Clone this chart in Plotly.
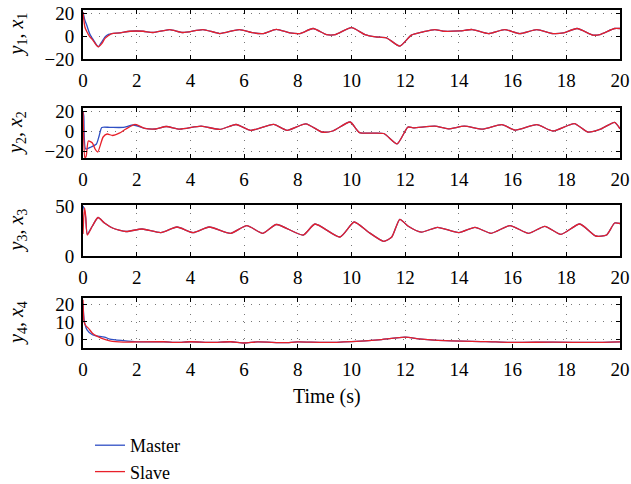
import plotly.graph_objects as go

# ---------------- data ----------------
# x1 / y1
t_x1 = [0, 0.07, 0.14, 0.25, 0.35, 0.5, 0.57, 0.7, 0.82, 0.95, 1.07, 1.38, 1.75, 2.24, 2.61,
        3.23, 3.72, 4.47, 5.09, 5.83, 6.3, 6.72, 7.2, 7.7, 8.08, 8.57, 9.07, 9.4, 10.0, 10.5,
        10.9, 11.3, 11.8, 12.23, 12.67, 13.1, 13.42, 14.04, 14.5, 15.1, 15.7, 16.27, 16.9,
        17.5, 17.9, 18.4, 19.0, 19.25, 19.8, 20.0]
master_x1 = [21, 14, 9.5, 2, -2, -7.5, -9.3, -5, -0.6, 1.5, 2.3, 2.9, 4.3, 4.3, 3.2,
             5.8, 3.2, 5.8, 2.3, 5.8, 3, 2.3, 6, 2.9, 2.3, 6.7, 1.4, 1.4, 7.5, 1.4,
             -0.6, -1.4, -8.7, 0.9, 3.8, 5.8, 4.3, 4.6, 5.8, 2.3, 5.8, 2.3, 5.8,
             2.3, 2.9, 6.7, 0.9, 1.4, 6.7, 6.7]
slave_x1_head = [21, 8, 4, -0.5, -3, -8, -9.3, -6.5, -2, 0.5]
slave_x1 = slave_x1_head + master_x1[len(slave_x1_head):]

# x2 / y2
t_x2_master_head = [0, 0.03, 0.1, 0.3, 0.5, 0.6, 0.7, 1.0, 1.5, 1.88]
master_x2_head = [20, 15, -18, -16, -13, -5, 3.6, 3.6, 3.6, 6]
t_x2_slave_head = [0, 0.03, 0.07, 0.12, 0.2, 0.35, 0.45, 0.55, 0.75, 0.9, 1.1, 1.35, 1.6, 1.94]
slave_x2_head = [20, -10, -27, -25, -10, -12, -18, -21, -6, -3, -4.5, -2.2, 2, 6.7]
t_x2_tail = [2.3, 2.7, 3.1, 3.6, 4.4, 5.1, 5.7, 6.25, 7.1, 7.6, 8.3, 8.9, 9.3, 9.95, 10.3,
             11.2, 11.7, 12.1, 12.3, 13.1, 13.6, 14.2, 14.9, 15.6, 16.1, 16.9, 17.5, 18.3,
             18.8, 19.3, 19.8, 20.0]
x2_tail = [2.6, 2, 4.5, 1.8, 4.8, 1.6, 6.5, 0.7, 6.6, 0.7, 7.2, -1, 0, 9, -1.6,
           -2.5, -12.8, 3.9, 3.2, 4.8, 2.2, 4.8, 1.9, 6.4, 0.9, 6.4, 0, 7.4,
           -1, 2.2, 8.7, 2.2]

# x3 / y3
t_x3 = [0, 0.03, 0.06, 0.1, 0.16, 0.35, 0.56, 0.8, 1.1, 1.6, 2.2, 2.9, 3.5, 4.1, 4.7, 5.5,
        6.1, 6.7, 7.2, 8.2, 8.64, 9.57, 10.1, 10.6, 11.2, 11.5, 11.8, 12.1, 12.6, 13.2,
        14.0, 14.6, 15.2, 15.9, 16.6, 17.2, 17.8, 18.5, 19.1, 19.5, 19.8, 20.0]
master_x3 = [50, 48, 45, 38, 22, 30, 38.5, 33, 28, 24.5, 27, 23.4, 29, 23.4, 29, 22.7,
             30.4, 22.7, 31.5, 21, 32, 19, 34, 24.5, 14.7, 19, 36.7, 30, 23.8, 28.7,
             23.4, 28.7, 22.7, 30.4, 22.7, 29.7, 21.7, 32, 20, 21, 33, 32.5]
slave_x3_head = [22, 40, 48, 40, 21]
slave_x3 = slave_x3_head + master_x3[len(slave_x3_head):]

# x4 / y4
t_x4_master_head = [0, 0.05, 0.15, 0.35, 0.5, 0.8, 1.0, 1.5]
master_x4_head = [20.5, 10.3, 5.6, 2.8, 2.2, 1.5, 0.4, -0.5]
t_x4_slave_head = [0, 0.04, 0.1, 0.2, 0.35, 0.5, 0.7, 1.0, 1.5]
slave_x4_head = [22.4, 10, 8, 6.5, 3.7, 2.2, 0.8, -0.6, -1.3]
t_x4_tail = [2.0, 3.0, 3.5, 4.0, 4.8, 5.5, 6.0, 6.5, 7.5, 8.0, 9.0, 10.0, 11.0, 12.0, 12.5,
             13.5, 15.0, 16.0, 17.5, 19.0, 20.0]
x4_tail = [-1.2, -1.1, -1.5, -1.1, -1.5, -1.1, -1.8, -1.2, -1.6, -1.2, -1.5, -1.0, 0.0, 1.5, 0.5,
           -0.5, -1.0, -1.5, -1.3, -1.5, -1.2]

x_ticks = list(range(0, 21, 2))
y_titles = ["<i>y</i><sub>1</sub>, <i>x</i><sub>1</sub>",
            "<i>y</i><sub>2</sub>, <i>x</i><sub>2</sub>",
            "<i>y</i><sub>3</sub>, <i>x</i><sub>3</sub>",
            "<i>y</i><sub>4</sub>, <i>x</i><sub>4</sub>"]
y_ranges = [[-20, 22.9], [-27, 23], [0, 51], [-4.6, 23.4]]
y_tickvals = [[-20, 0, 20], [-20, 0, 20], [0, 50], [0, 10, 20]]
x_label = "Time (s)"

# ---------------- figure ----------------
W, H = 631, 484
BLUE = "#2f4fc4"
RED = "#e8202a"
FONT = "Liberation Serif"

series = [
    (t_x1, master_x1, t_x1, slave_x1),
    (t_x2_master_head + t_x2_tail, master_x2_head + x2_tail,
     t_x2_slave_head + t_x2_tail, slave_x2_head + x2_tail),
    (t_x3, master_x3, t_x3, slave_x3),
    (t_x4_master_head + t_x4_tail, master_x4_head + x4_tail,
     t_x4_slave_head + t_x4_tail, slave_x4_head + x4_tail),
]

# plot boxes in screen pixels (top, bottom)
boxes = [(10, 59), (108, 158), (205, 256), (298, 348)]
x_left, x_right = 83, 620


def px(x):
    return x / W


def py(y):
    return 1 - y / H


fig = go.Figure()
layout = dict(
    template="none",
    width=W, height=H,
    margin=dict(l=0, r=0, t=0, b=0, autoexpand=False),
    paper_bgcolor="white", plot_bgcolor="white",
    font=dict(family=FONT, size=18, color="black"),
    showlegend=True,
    legend=dict(x=px(90), y=py(427), xanchor="left", yanchor="top",
                font=dict(family=FONT, size=18), tracegroupgap=0,
                bgcolor="rgba(0,0,0,0)", borderwidth=0),
)

annotations = []
for i, (tm, ym, ts, ys) in enumerate(series):
    n = i + 1
    xa = "x" if n == 1 else f"x{n}"
    ya = "y" if n == 1 else f"y{n}"
    fig.add_trace(go.Scatter(x=tm, y=ym, mode="lines", name="Master",
                             line=dict(color=BLUE, width=1.3, shape="spline", smoothing=0.6),
                             xaxis=xa, yaxis=ya, showlegend=(n == 1), legendgroup="m"))
    fig.add_trace(go.Scatter(x=ts, y=ys, mode="lines", name="Slave",
                             line=dict(color=RED, width=1.3, shape="spline", smoothing=0.6),
                             xaxis=xa, yaxis=ya, showlegend=(n == 1), legendgroup="s"))
    top, bot = boxes[i]
    common = dict(showline=True, linecolor="black", linewidth=2, mirror="ticks",
                  ticks="inside", ticklen=4, tickwidth=1.2, tickcolor="black",
                  showgrid=True, gridcolor="#777777", gridwidth=1, griddash="1px,7px",
                  zeroline=False, automargin=False, ticklabeloverflow="allow",
                  tickfont=dict(family=FONT, size=19, color="black"))
    layout[f"xaxis{'' if n == 1 else n}"] = dict(
        domain=[px(x_left), px(x_right)], range=[0, 20], tickvals=x_ticks,
        anchor=ya, ticklabelstandoff=3, **common)
    layout[f"yaxis{'' if n == 1 else n}"] = dict(
        domain=[py(bot), py(top)], range=y_ranges[i], tickvals=y_tickvals[i],
        anchor=xa, ticklabelstandoff=3, **common)
    annotations.append(dict(text=y_titles[i], x=px(17), y=py((top + bot) / 2),
                            xref="paper", yref="paper", showarrow=False, textangle=-90,
                            font=dict(family=FONT, size=20), xanchor="center", yanchor="middle"))

annotations.append(dict(text=x_label, x=px(327), y=py(396),
                        xref="paper", yref="paper", showarrow=False,
                        font=dict(family=FONT, size=20), xanchor="center", yanchor="middle"))
layout["annotations"] = annotations
fig.update_layout(**layout)
fig.write_html("out.html", config={"displayModeBar": False},
               post_script="document.body.style.margin='0px';")
